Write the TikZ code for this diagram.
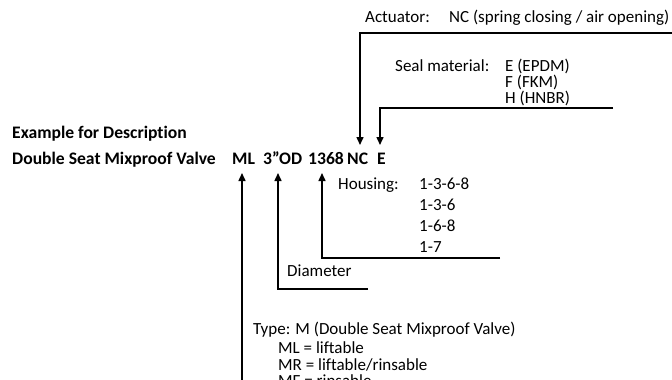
\documentclass[tikz,border=0pt]{standalone}
\usepackage{fontspec}
\setmainfont{Carlito}[Ligatures=NoCommon]
\usetikzlibrary{positioning, arrows.meta}

\begin{document}
\begin{tikzpicture}[x=1pt, y=-1pt, >={Triangle[length=8pt, width=7pt]},
            txt/.style={anchor=base west, inner sep=0pt, font=\fontsize{17}{20}\selectfont},
            code/.style={txt, font=\fontsize{17.6}{20}\selectfont\bfseries},
            lead/.style={line width=1.5pt}]
            \useasboundingbox (0,0) rectangle (672,380);
            \clip (0,0) rectangle (672,380);

            % description line
            \node[code] (head) at (12,138) {Example for Description};
            \node[code] (valve) at (12,164) {Double Seat Mixproof Valve};
            \node[code] (ml) at (232,164) {ML};
            \node[code] (od) at (263,164) {3\textquotedblright OD};
            \node[code] (hs) at (308,164) {1368};
            \node[code] (nc) at (347,164) {NC};
            \node[code] (se) at (377,164) {E};

            % explanations
            \node[txt] (act) at (365,22) {Actuator:};
            \node[txt] (actv) at (449,22) {NC (spring closing / air opening)};
            \node[txt] (seal) at (395,71) {Seal material:};
            \node[txt] (seal1) at (505,71) {E (EPDM)};
            \node[txt] (seal2) at (505,87) {F (FKM)};
            \node[txt] (seal3) at (505,103) {H (HNBR)};
            \node[txt] (hous) at (338,189) {Housing:};
            \node[txt] (hous1) at (419,189) {1-3-6-8};
            \node[txt] (hous2) at (419,210) {1-3-6};
            \node[txt] (hous3) at (419,231) {1-6-8};
            \node[txt] (hous4) at (419,252) {1-7};
            \node[txt] (dia) at (287,276) {Diameter};
            \node[txt] (type) at (253,334) {Type: M (Double Seat Mixproof Valve)};
            \node[txt] (type1) at (278,353) {ML = liftable};
            \node[txt] (type2) at (278,370) {MR = liftable/rinsable};
            \node[txt] (type3) at (278,386) {MF = rinsable};

            % corners of the leaders
            \coordinate (actend) at (672,33);
            \coordinate (sealend) at (613,108);
            \coordinate (housend) at (500,258);
            \coordinate (diaend) at (368,289);
            \coordinate (typeend) at (242,390);

            \draw[lead, ->] (actend) -- (360,33) -- (360,145);
            \draw[lead, ->] (sealend) -- (380,108) -- (380,145);
            \draw[lead, ->] (housend) -- (322,258) -- (322,173);
            \draw[lead, ->] (diaend) -- (278,289) -- (278,173);
            \draw[lead, ->] (typeend) -- (242,173);
        \end{tikzpicture}
\end{document}
